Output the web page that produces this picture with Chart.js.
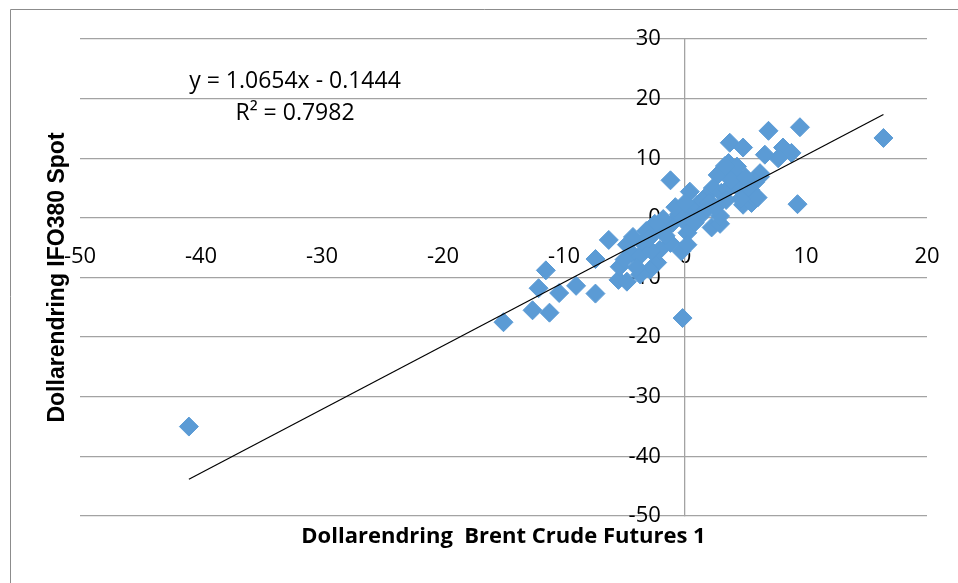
<!DOCTYPE html>
<html>
<head>
<meta charset="utf-8">
<script src="https://cdn.jsdelivr.net/npm/chart.js@4.4.1/dist/chart.umd.min.js"></script>
<style>
  html, body { margin: 0; padding: 0; background: #fff; }
  #wrap { position: relative; width: 958px; height: 583px; }
</style>
</head>
<body>
<div id="wrap"><canvas id="chart" width="958" height="583"></canvas></div>
<script>
// Brent futures change (x) vs IFO380 spot change (y), USD
const brentChange = [
  16.4, 9.5, 6.9, 9.3, 8.1, 8.8, 7.7, 6.6, 3.7, 4.8,
  -1.2, -0.2, -15.0, -12.6, -11.2, -12.1, -11.5, -10.4, -9.0, -7.4,
  -7.4, -6.3, -5.5, -41.0, 2.2, 2.9, 0.2, -0.3, 0.4, 4.8,
  5.5, 5.6, 6.2, 3.6, 3.1, 4.0, 2.7, 4.5, 6.2, 5.8,
  5.4, 6.0, 2.3, 1.7, 2.9, -4.8, -5.4, -4.4, 0.2, -2.3,
  -2.9, -3.7, -4.8, -2.1, -1.2, -3.5, -4.3, -2.6, -1.5, -1.0,
  -0.2, 1.0, 0.5, 1.0, 1.5, 2.0, -0.5, -1.8, -2.5, -3.2,
  3.0, 3.5, 4.2, 3.8, 4.3, 3.3, 5.0, 4.6, -3.8, -2.8,
  -1.6, 0.8, 1.5, 2.5, -0.8, 0.0, -3.0, -5.0, -4.0, 3.4
];
const ifoChange = [
  13.4, 15.2, 14.6, 2.3, 11.8, 10.9, 10.0, 10.6, 12.6, 11.8,
  6.3, -16.8, -17.5, -15.5, -15.9, -11.8, -8.8, -12.6, -11.4, -12.7,
  -6.9, -3.7, -10.4, -35.0, -1.6, -1.0, -2.5, -5.6, 4.4, 2.2,
  2.5, 3.5, 6.9, 9.2, 8.0, 7.7, 7.2, 6.4, 7.5, 6.0,
  4.7, 3.4, 5.0, 3.5, 0.3, -4.5, -8.2, -5.9, -4.5, -7.5,
  -8.7, -9.5, -10.7, -5.4, -4.2, -4.2, -3.2, -2.5, -1.7, -0.8,
  -0.3, 0.2, 1.5, 2.2, 2.8, 2.5, 0.6, -0.2, -1.0, -2.2,
  4.2, 4.8, 5.5, 6.4, 8.6, 8.7, 6.8, 3.2, -6.5, -5.5,
  -3.0, -0.8, 0.8, 1.8, 1.8, 2.5, -3.5, -7.0, -8.3, 3.0
];

// linear trendline as reported on the chart
const slope = 1.0654;
const intercept = -0.1444;
const rSquared = 0.7982;

const xTicks = [-50, -40, -30, -20, -10, 0, 10, 20];
const yTicks = [-50, -40, -30, -20, -10, 0, 10, 20, 30];

const points = brentChange.map((x, i) => ({ x: x, y: ifoChange[i] }));
const xMin = Math.min(...brentChange);
const xMax = Math.max(...brentChange);
const trend = [
  { x: xMin, y: slope * xMin + intercept },
  { x: xMax, y: slope * xMax + intercept }
];

const tickFont = { family: "'Open Sans', sans-serif", size: 22 };

// frame, axis titles and the equation box
const extras = {
  id: "extras",
  beforeDraw(chart) {
    const ctx = chart.ctx;
    ctx.save();
    ctx.strokeStyle = "#8c8c8c";
    ctx.lineWidth = 1;
    ctx.beginPath();
    ctx.moveTo(10.5, 583);
    ctx.lineTo(10.5, 9.5);
    ctx.lineTo(958, 9.5);
    ctx.stroke();
    ctx.restore();
  },
  afterDraw(chart) {
    const ctx = chart.ctx;
    const area = chart.chartArea;
    ctx.save();
    ctx.fillStyle = "#000";
    ctx.textAlign = "center";
    ctx.textBaseline = "middle";

    ctx.font = "23px 'Open Sans', sans-serif";
    ctx.fillText("y = " + slope.toFixed(4) + "x - " + Math.abs(intercept).toFixed(4), 295, 81);
    ctx.fillText("R\u00b2 = " + rSquared.toFixed(4), 295, 113);

    ctx.font = "bold 22px 'Liberation Sans Narrow', 'Open Sans', sans-serif";
    ctx.fillText("Dollarendring  Brent Crude Futures 1", (area.left + area.right) / 2, 537);

    ctx.translate(58, (area.top + area.bottom) / 2);
    ctx.rotate(-Math.PI / 2);
    ctx.font = "bold 23px 'Liberation Sans', sans-serif";
    ctx.fillText("Dollarendring IFO380 Spot", 0, 0);
    ctx.restore();
  }
};

new Chart(document.getElementById("chart"), {
  type: "scatter",
  data: {
    datasets: [
      {
        label: "Trend",
        data: trend,
        showLine: true,
        borderColor: "#000",
        borderWidth: 1.2,
        pointRadius: 0,
        order: 0
      },
      {
        label: "Dollarendring",
        data: points,
        pointStyle: "rectRot",
        pointRadius: 9.5,
        pointBackgroundColor: "#5b9bd5",
        pointBorderColor: "#5b9bd5",
        pointBorderWidth: 1,
        order: 1
      }
    ]
  },
  options: {
    responsive: false,
    animation: false,
    devicePixelRatio: 1,
    layout: { padding: { left: 80, right: 31, top: 39, bottom: 67 } },
    plugins: {
      legend: { display: false },
      tooltip: { enabled: false }
    },
    scales: {
      x: {
        type: "linear",
        position: { y: 0 },
        z: 1,
        min: xTicks[0],
        max: xTicks[xTicks.length - 1],
        afterBuildTicks: s => { s.ticks = xTicks.map(v => ({ value: v })); },
        grid: { display: false },
        border: { display: false },
        ticks: { color: "#000", font: tickFont, padding: 18, maxRotation: 0 }
      },
      // grid and the vertical axis line, under the markers
      y: {
        type: "linear",
        position: { x: 0 },
        min: yTicks[0],
        max: yTicks[yTicks.length - 1],
        afterBuildTicks: s => { s.ticks = yTicks.map(v => ({ value: v })); },
        grid: { color: "#a3a3a3", lineWidth: 1.3, drawTicks: false },
        border: { display: true, color: "#a3a3a3", width: 1.3 },
        ticks: { display: false }
      },
      // value labels, drawn over the markers just left of the axis
      yLabels: {
        type: "linear",
        axis: "y",
        position: { x: -2 },
        z: 1,
        min: yTicks[0],
        max: yTicks[yTicks.length - 1],
        afterBuildTicks: s => { s.ticks = yTicks.map(v => ({ value: v })); },
        grid: { display: false },
        border: { display: false },
        ticks: { color: "#000", font: tickFont }
      }
    }
  },
  plugins: [extras]
});
</script>
</body>
</html>
